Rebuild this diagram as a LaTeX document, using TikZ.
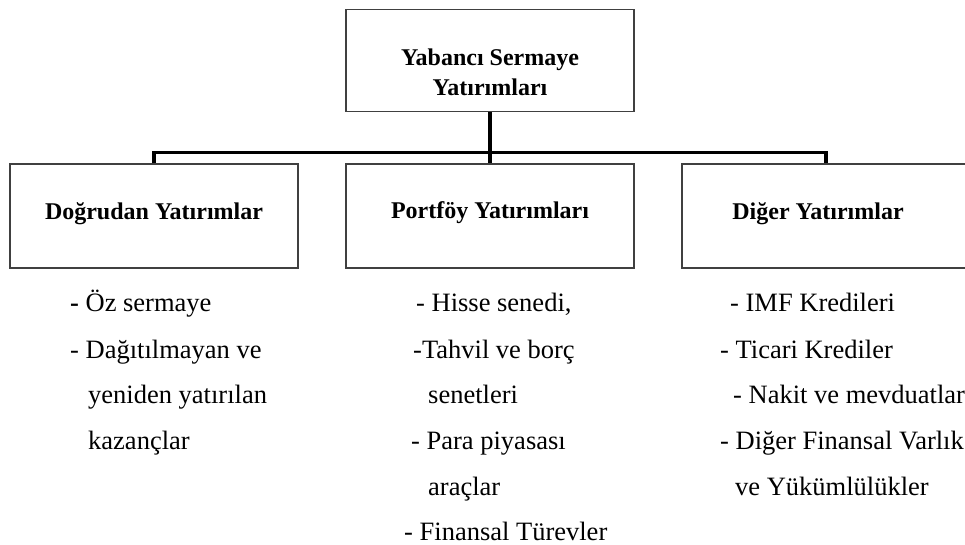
\documentclass[tikz,border=0pt]{standalone}
\usepackage{fontspec}
\setmainfont{Liberation Serif}
\begin{document}
\begin{tikzpicture}[x=1pt,y=-1pt,
  box/.style={draw=black!75, line width=1.1pt, minimum width=288pt, inner sep=0pt},
  title/.style={font=\bfseries\fontsize{24}{30}\selectfont, align=center, inner sep=0pt},
  item/.style={anchor=base west, font=\fontsize{26.5}{30}\selectfont, inner sep=0pt},
  conn/.style={line width=3.5pt}]
\useasboundingbox (0,0) rectangle (965,544);
\clip (0,0) rectangle (965,544);
% boxes
\node[box, minimum height=102pt] (top) at (490,60.5) {};
\node[box, minimum height=104pt] (dog) at (154,216) {};
\node[box, minimum height=104pt] (por) at (490,216) {};
\node[box, minimum height=104pt] (dig) at (826,216) {};
% titles
\node[title] (ttop) at (490,72) {Yabancı Sermaye\\Yatırımları};
\node[title, anchor=base] (tdog) at (154,219) {Doğrudan Yatırımlar};
\node[title, anchor=base] (tpor) at (490,218) {Portföy Yatırımları};
\node[title, anchor=base] (tdig) at (818,219) {Diğer Yatırımlar};
% connectors
\draw[conn] (top.south) -- (por.north);
\draw[conn] (dog.north) -- ++(0,-11) -| (dig.north);
% left list
\node[item] (l1) at (70,311) {\textbf{-} Öz sermaye};
\node[item] (l2) at (70,358) {- Dağıtılmayan ve};
\node[item] (l3) at (88,403) {yeniden yatırılan};
\node[item] (l4) at (88,449) {kazançlar};
% middle list
\node[item] (m1) at (416,311) {- Hisse senedi,};
\node[item] (m2) at (413,358) {-Tahvil ve borç};
\node[item] (m3) at (428,403) {senetleri};
\node[item] (m4) at (411,449) {- Para piyasası};
\node[item] (m5) at (428,495) {araçlar};
\node[item] (m6) at (404,540) {- Finansal Türevler};
% right list
\node[item] (r1) at (730,311) {- IMF Kredileri};
\node[item] (r2) at (720,358) {- Ticari Krediler};
\node[item] (r3) at (733,403) {- Nakit ve mevduatlar};
\node[item] (r4) at (720,449) {- Diğer Finansal Varlık};
\node[item] (r5) at (735,495) {ve Yükümlülükler};
\end{tikzpicture}
\end{document}
